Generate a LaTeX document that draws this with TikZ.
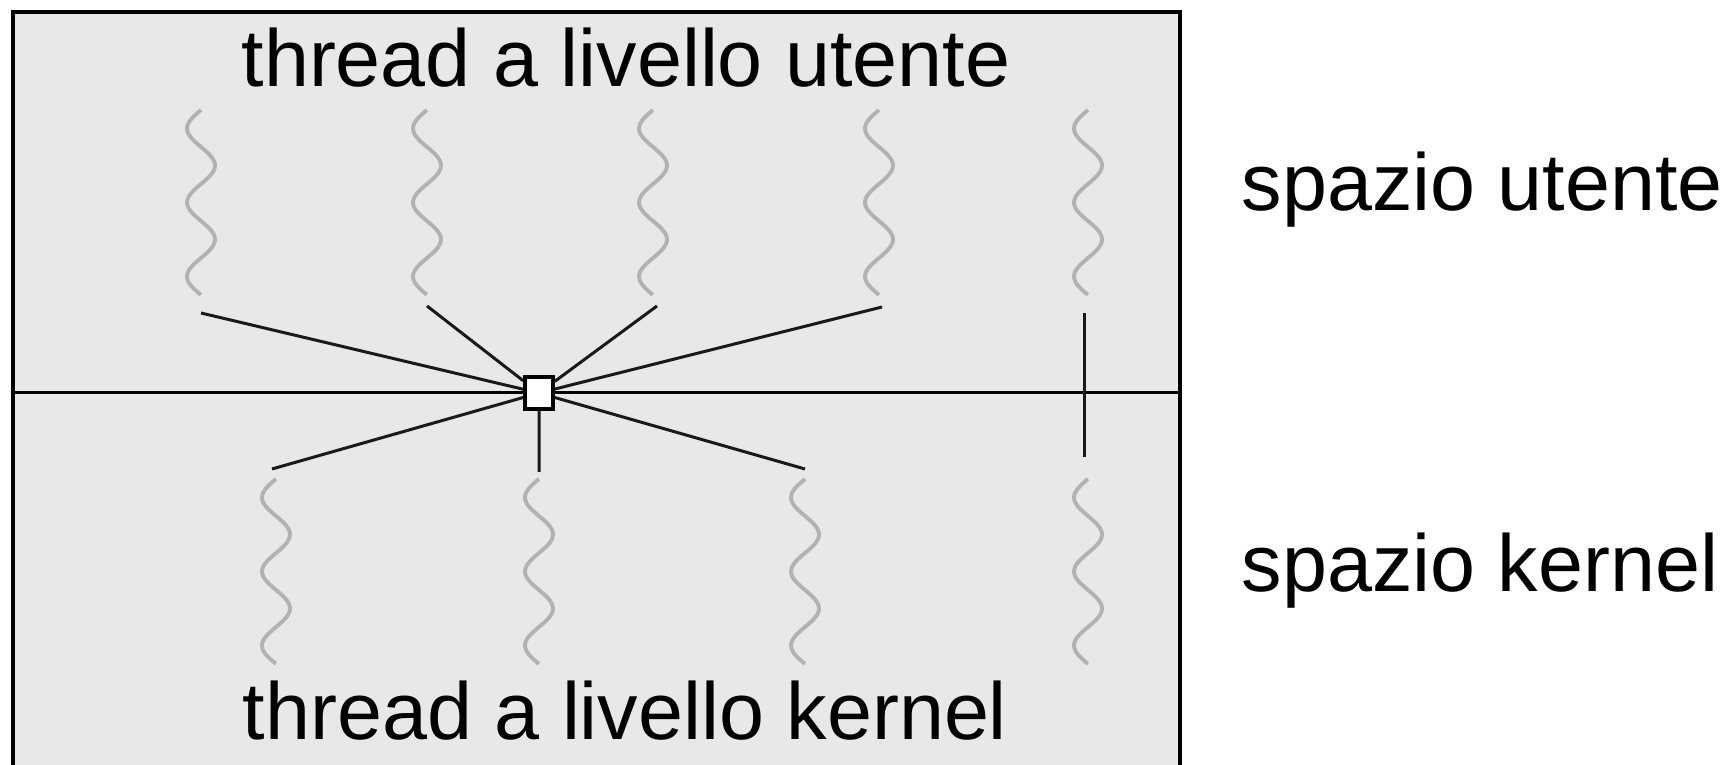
\documentclass[tikz,border=0pt]{standalone}
\usepackage{fontspec}
\setmainfont{Liberation Sans}
\usetikzlibrary{positioning}

\begin{document}
\begin{tikzpicture}[x=0.01cm, y=-0.01cm,
	wave/.style = {draw=black!30, line width=1.1pt},
	link/.style = {draw=black!90, line width=0.85pt},
	txt/.style = {inner sep=0pt, font=\fontsize{23}{27}\selectfont}]
	
	\useasboundingbox (0,0) rectangle (1734,765);
	\def \amp {14}
	\def \len {185} % length of a thread wave
	
	% the two spaces
	\fill[black!9] (13,12) rectangle (1180,790);
	\draw[line width=1pt] (13,790) -- (13,12) -- (1180,12) -- (1180,790);
	\draw[line width=0.85pt] (13,393) -- (1180,393);
	
	% user threads
	\foreach \cx in {201,427,653,879,1088}
	{
		\draw[wave] plot[domain=0:1, samples=80, smooth] ({\cx - \amp*sin(900*\x)}, {110 + \len*\x});
	}
	% kernel threads
	\foreach \cx in {276,539,805,1088}
	{
		\draw[wave] plot[domain=0:1, samples=80, smooth] ({\cx - \amp*sin(900*\x)}, {479 + \len*\x});
	}
	
	\coordinate (u1) at (201,313);
	\coordinate (u2) at (427,306);
	\coordinate (u3) at (657,306);
	\coordinate (u4) at (882,307);
	\coordinate (u5) at (1084,313);
	\coordinate (k1) at (272,469);
	\coordinate (k2) at (539,472);
	\coordinate (k3) at (805,469);
	\coordinate (k4) at (1084,457);
	
	\node[draw, line width=1pt, fill=white, minimum width=0.28cm, minimum height=0.32cm, inner sep=0pt] (lwp) at (539,393) {};
	\draw[link] (u1) -- (lwp) (u2) -- (lwp) (u3) -- (lwp) (u4) -- (lwp);
	\draw[link] (k1) -- (lwp) (k2) -- (lwp) (k3) -- (lwp);
	\draw[link] (u5) -- (k4);
	
	\node[txt, anchor=base] (ut) at (626,87) {thread a livello utente};
	\node[txt, anchor=base] (kt) at (625,740) {thread a livello kernel};
	\node[txt, anchor=base west] (us) at (1241,211) {spazio utente};
	\node[txt, anchor=base west] (ks) at (1241,592) {spazio kernel};
\end{tikzpicture}
\end{document}
